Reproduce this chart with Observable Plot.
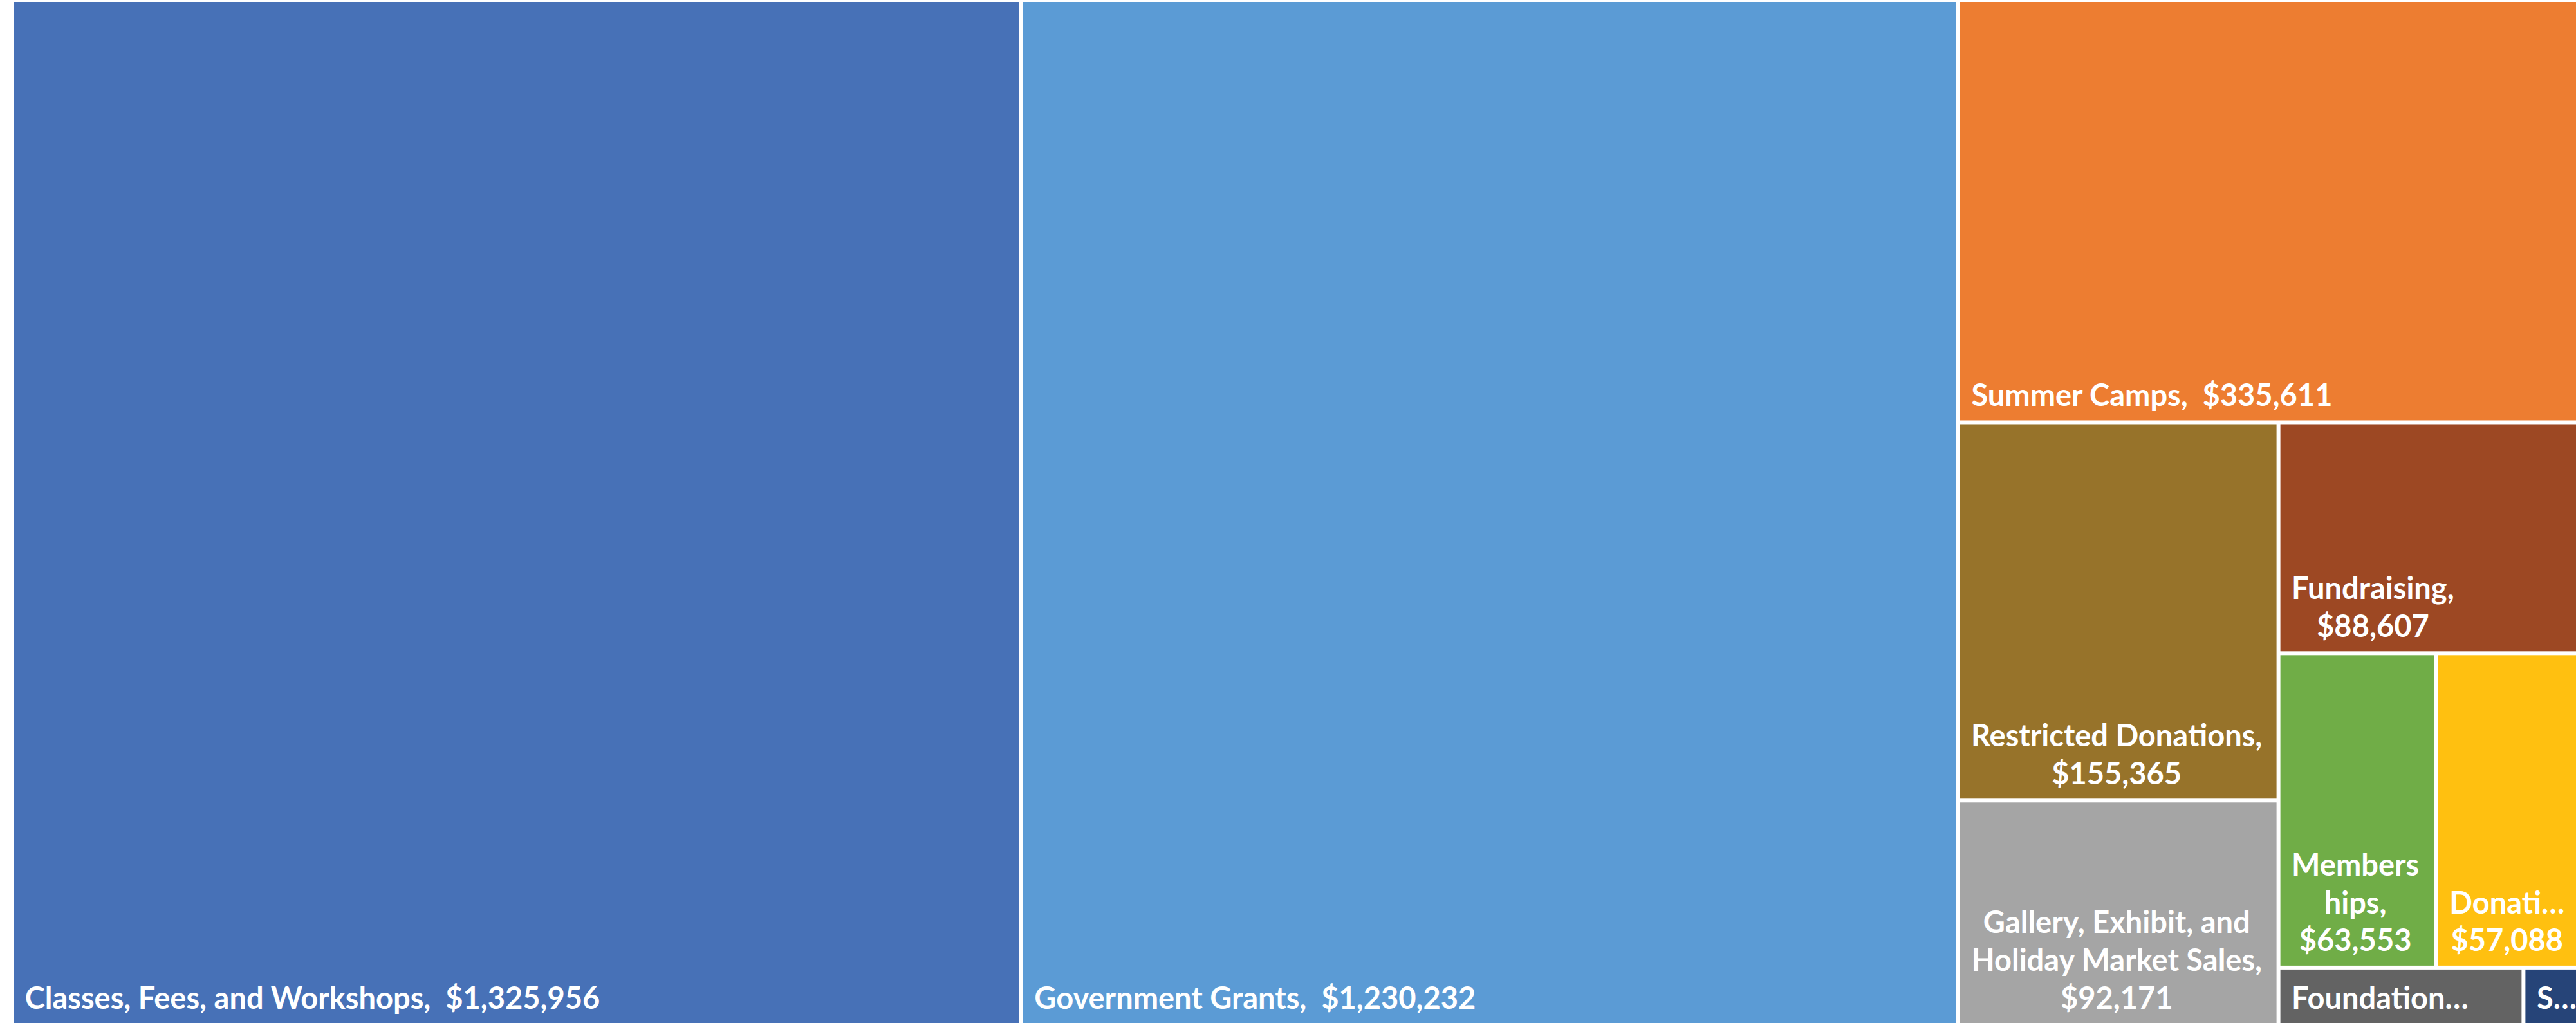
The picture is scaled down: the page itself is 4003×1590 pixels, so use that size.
<!DOCTYPE html>
<html>
<head>
<meta charset="utf-8">
<script src="https://cdn.jsdelivr.net/npm/d3@7"></script>
<script src="https://cdn.jsdelivr.net/npm/@observablehq/plot@0.6"></script>
<style>
  html, body { margin: 0; padding: 0; background: #ffffff; }
  #chart svg { display: block; }
</style>
</head>
<body>
<div id="chart"></div>
<script>
// ---- data ----
const categories = [
  "Classes, Fees, and Workshops",
  "Government Grants",
  "Summer Camps",
  "Restricted Donations",
  "Gallery, Exhibit, and Holiday Market Sales",
  "Fundraising",
  "Memberships",
  "Donations",
  "Foundation Grants",
  "Sponsorships"
];
const values = [1325956, 1230232, 335611, 155365, 92171, 88607, 63553, 57088, 18000, 4000];
const palette = ["#4771B7", "#5B9BD5", "#ED7D31", "#97732A", "#A5A5A5", "#9D4823", "#70AD47", "#FFC010", "#636363", "#264478"];
// label text as it appears in each tile (wrapped / truncated like the original)
const shownLabels = [
  "Classes, Fees, and Workshops,  $1,325,956",
  "Government Grants,  $1,230,232",
  "Summer Camps,  $335,611",
  "Restricted Donations,\n$155,365",
  "Gallery, Exhibit, and\nHoliday Market Sales,\n$92,171",
  "Fundraising,\n$88,607",
  "Members\nhips,\n$63,553",
  "Donati…\n$57,088",
  "Foundation…",
  "S…"
];

// ---- layout ----
const WIDTH = 4003, HEIGHT = 1590;
const mLeft = 21, mTop = 3;
const W = WIDTH - mLeft, H = HEIGHT - mTop;
const GAP = 6;
const FONT_SIZE = 47, FONT_FAMILY = "Lato", FONT_WEIGHT = "bold", LINE_H = 1.25;
const PAD_X = 17, PAD_BOTTOM = 23;

const rows = categories.map((name, i) => ({name, value: values[i], label: shownLabels[i]}));
const root = d3.hierarchy({children: rows}).sum(d => d.value || 0);
d3.treemap()
  .tile(d3.treemapSquarify.ratio(1.3))
  .size([W, H])
  .paddingInner(GAP)
  .round(false)(root);

const ctx = document.createElement("canvas").getContext("2d");
ctx.font = `${FONT_WEIGHT} ${FONT_SIZE}px ${FONT_FAMILY}`;
const leaves = root.leaves().map(n => {
  const lines = n.data.label.split("\n");
  const bw = d3.max(lines, l => ctx.measureText(l).width);
  return {
    name: n.data.name, label: n.data.label,
    x0: n.x0, x1: n.x1, y0: n.y0, y1: n.y1,
    tx: n.x0 + PAD_X + bw / 2,
    ty: n.y1 - PAD_BOTTOM
  };
});

const chart = Plot.plot({
  width: WIDTH,
  height: HEIGHT,
  marginLeft: mLeft, marginRight: 0, marginTop: mTop, marginBottom: 0,
  x: {domain: [0, W], axis: null},
  y: {domain: [0, H], range: [mTop, HEIGHT], axis: null},
  color: {domain: categories, range: palette},
  marks: [
    Plot.rect(leaves, {x1: "x0", x2: "x1", y1: "y0", y2: "y1", fill: "name"}),
    Plot.text(leaves, {
      x: "tx", y: "ty", text: "label",
      textAnchor: "middle", lineAnchor: "bottom", lineHeight: LINE_H,
      fill: "white", fontSize: FONT_SIZE, fontWeight: FONT_WEIGHT, fontFamily: FONT_FAMILY
    })
  ]
});
document.getElementById("chart").appendChild(chart);
</script>
</body>
</html>
